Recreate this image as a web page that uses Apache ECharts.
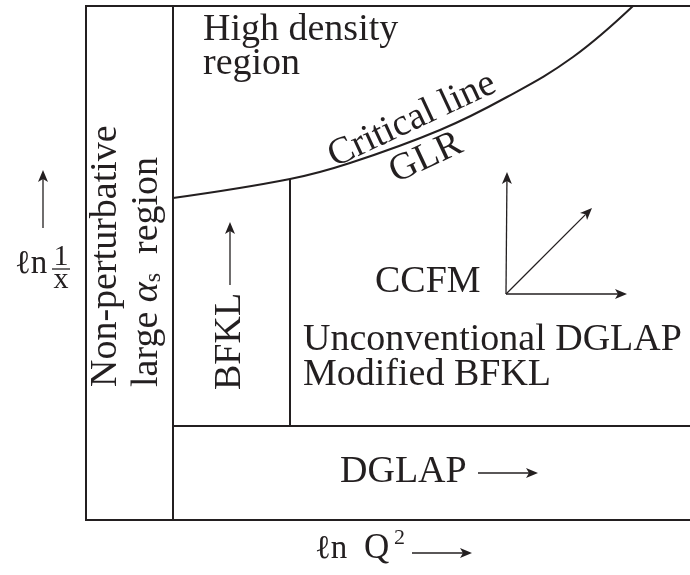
<!DOCTYPE html>
<html>
<head>
<meta charset="utf-8">
<script src="https://cdn.jsdelivr.net/npm/echarts@6/dist/echarts.min.js"></script>
<style>
  html, body { margin: 0; padding: 0; background: #fff; }
  #chart { width: 690px; height: 575px; }
</style>
</head>
<body>
<div id="chart"></div>
<script>
// region boundaries, (ln Q^2, ln 1/x) in arbitrary units; frame is open on the right
var frameLines = [
    [[604, 514], [0, 514], [0, 0], [604, 0]],
    [[87, 0], [87, 514]],
    [[87, 94], [604, 94]],
    [[204, 94], [204, 341]]
];
// GLR critical line
var criticalLine = [[87, 322], [204, 341], [264, 357], [354, 390], [421, 423], [487, 463], [547, 514]];
// fraction bar of ln 1/x
var fracBar = [[-34, 251], [-16, 251]];

// arrows: tail x, tail y, tip x, tip y
var arrows = [
    [-43, 292, -43, 350],   // ln 1/x
    [144, 235, 144, 298],   // BFKL
    [420, 226, 421, 348],   // CCFM up
    [420, 226, 541, 226],   // CCFM right
    [420, 226, 506, 312],   // CCFM diagonal
    [392, 47, 452, 47],     // DGLAP
    [326, -33, 386, -33]    // ln Q^2
];

var labelTexts = ['High density', 'region', 'Critical line', 'GLR', 'Non-perturbative',
    'large α_s region', 'BFKL', 'CCFM', 'Unconventional DGLAP', 'Modified BFKL', 'DGLAP',
    'ℓn', 'Q', '2', 'ℓn', '1', 'x'];
var labelAnchors = [[117, 490], [117, 456], [326, 400], [340, 362], [20, 133],
    [61, 133], [144, 130], [289, 238], [217, 180], [217, 145], [254, 48],
    [229, -29], [278, -29], [308, -18], [-71, 256], [-25, 263], [-25, 240]];
var labelAngles = [0, 0, 25, 25, 90, 90, 90, 0, 0, 0, 0, 0, 0, 0, 0, 0, 0];

var ink = '#231f20';
var serif = '"Liberation Serif", "Times New Roman", serif';

function labelStyle(i) {
    // axis titles are a bit smaller than the region names
    var size = i >= 11 ? 33 : 38;
    if (i === 12) size = 35;
    if (i === 15 || i === 16) size = 30;
    if (i === 13) size = 22;
    var align = (i === 2 || i === 3 || i === 15 || i === 16) ? 'center' : 'left';
    return { size: size, align: align };
}

function tok(size, lh, extra) {
    var s = { fontFamily: serif, fontSize: size, lineHeight: lh, verticalAlign: 'bottom', fill: ink };
    for (var k in extra) s[k] = extra[k];
    return s;
}

var chart = echarts.init(document.getElementById('chart'));

var option = {
    animation: false,
    backgroundColor: '#fff',
    grid: { left: 86, right: 0, top: 6, bottom: 55 },
    xAxis: { type: 'value', min: 0, max: 604, show: false },
    yAxis: { type: 'value', min: 0, max: 514, show: false },
    series: [
        {
            type: 'lines',
            coordinateSystem: 'cartesian2d',
            polyline: true,
            silent: true,
            clip: false,
            lineStyle: { color: ink, width: 2, opacity: 1 },
            data: frameLines.map(function (c) { return { coords: c }; })
        },
        {
            type: 'lines',
            coordinateSystem: 'cartesian2d',
            polyline: true,
            silent: true,
            clip: false,
            lineStyle: { color: ink, width: 1.3, opacity: 1 },
            data: [{ coords: fracBar }]
        },
        {
            type: 'line',
            smooth: 0.4,
            showSymbol: false,
            silent: true,
            clip: false,
            lineStyle: { color: ink, width: 2 },
            data: criticalLine
        },
        {
            type: 'custom',
            clip: false,
            silent: true,
            data: arrows,
            renderItem: function (params, api) {
                var p1 = api.coord([api.value(0), api.value(1)]);
                var p2 = api.coord([api.value(2), api.value(3)]);
                var dx = p2[0] - p1[0], dy = p2[1] - p1[1];
                var len = Math.sqrt(dx * dx + dy * dy);
                var ux = dx / len, uy = dy / len;
                var nx = -uy, ny = ux;
                var L = 12, W = 5, notch = 3;
                var bx = p2[0] - ux * L, by = p2[1] - uy * L;
                return {
                    type: 'group',
                    children: [
                        {
                            type: 'line',
                            shape: { x1: p1[0], y1: p1[1], x2: p2[0] - ux * (L - notch), y2: p2[1] - uy * (L - notch) },
                            style: { stroke: ink, lineWidth: 1.3 }
                        },
                        {
                            type: 'polygon',
                            shape: { points: [
                                [p2[0], p2[1]],
                                [bx + nx * W, by + ny * W],
                                [p2[0] - ux * (L - notch), p2[1] - uy * (L - notch)],
                                [bx - nx * W, by - ny * W]
                            ] },
                            style: { fill: ink }
                        }
                    ]
                };
            }
        },
        {
            type: 'custom',
            clip: false,
            silent: true,
            data: labelAnchors.map(function (p, i) { return [p[0], p[1], i]; }),
            renderItem: function (params, api) {
                var i = api.value(2);
                var pt = api.coord([api.value(0), api.value(1)]);
                var st = labelStyle(i);
                var txt = labelTexts[i];
                var style = {
                    text: txt,
                    fill: ink,
                    fontFamily: serif,
                    fontSize: st.size,
                    align: st.align,
                    verticalAlign: 'middle'
                };
                if (txt.indexOf('_') > 0) {
                    // large alpha_s region: italic alpha with a lowered subscript
                    var parts = txt.split('_');
                    style.text = '{n|' + parts[0].slice(0, -1) + '}{a|α}{s|' + parts[1].charAt(0) + '}{n|\u2002' + parts[1].slice(2) + '}';
                    style.rich = {
                        n: tok(38, 38, {}),
                        a: tok(38, 38, { fontStyle: 'italic' }),
                        s: tok(24, 18, {})
                    };
                }
                return {
                    type: 'text',
                    x: pt[0],
                    y: pt[1],
                    rotation: labelAngles[i] * Math.PI / 180,
                    style: style
                };
            }
        }
    ]
};

chart.setOption(option);
</script>
</body>
</html>
